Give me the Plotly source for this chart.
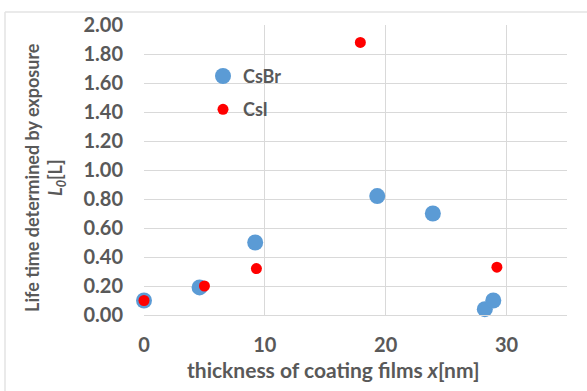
import plotly.graph_objects as go

# Data
csbr_x = [0.0, 4.6, 9.2, 19.3, 23.9, 28.2, 28.9]
csbr_y = [0.10, 0.19, 0.50, 0.82, 0.70, 0.04, 0.10]
csi_x = [0.0, 5.0, 9.3, 17.9, 29.2]
csi_y = [0.10, 0.20, 0.32, 1.88, 0.33]
x_ticks = [0, 10, 20, 30]
y_ticks = [0.0, 0.2, 0.4, 0.6, 0.8, 1.0, 1.2, 1.4, 1.6, 1.8, 2.0]

FONT = "Lato"
GRAY = "#595959"
W, H = 587, 391
L, R, T, B = 144, 20, 23, 76
PW, PH = W - L - R, H - T - B

fig = go.Figure()
fig.add_trace(go.Scatter(x=csbr_x, y=csbr_y, mode="markers", name="CsBr", legendgroup="a",
                         marker=dict(color="#5B9BD5", size=16), cliponaxis=False))
fig.add_trace(go.Scatter(x=csi_x, y=csi_y, mode="markers", name="CsI", legendgroup="b",
                         marker=dict(color="#FF0000", size=11), cliponaxis=False))

fig.update_layout(
    width=W, height=H,
    margin=dict(l=L, r=R, t=T, b=B),
    paper_bgcolor="white", plot_bgcolor="white",
    font=dict(family=FONT, color=GRAY, size=17),
    showlegend=True,
    legend=dict(x=(203 - L) / PW, y=1 - (56 - T) / PH, xanchor="left", yanchor="top",
                bgcolor="rgba(0,0,0,0)",
                font=dict(size=18, color=GRAY, family=FONT, weight="bold"),
                itemsizing="trace", tracegroupgap=7),
    xaxis=dict(range=[0, 35], tickvals=x_ticks, ticktext=[str(v) for v in x_ticks],
               showgrid=True, gridcolor="#D9D9D9", gridwidth=1,
               zeroline=False, showline=True, linecolor="#D9D9D9", linewidth=1,
               ticks="outside", ticklen=12, tickcolor="rgba(0,0,0,0)",
               tickfont=dict(size=20, family=FONT, color=GRAY, weight="bold")),
    yaxis=dict(range=[0, 2.0], tickvals=y_ticks, ticktext=[f"{v:.2f}" for v in y_ticks],
               showgrid=True, gridcolor="#D9D9D9", gridwidth=1,
               zeroline=False, showline=False,
               ticks="outside", ticklen=16, tickcolor="rgba(0,0,0,0)",
               tickfont=dict(size=20, family=FONT, color=GRAY, weight="bold")),
)

# axis titles as annotations
fig.add_annotation(text="thickness of coating films <i>x</i>[nm]", xref="paper", yref="paper",
                   x=(185 - L) / PW, y=-(370 - (H - B)) / PH,
                   xanchor="left", yanchor="middle", showarrow=False,
                   font=dict(size=21, family=FONT, color=GRAY, weight="bold"))
fig.add_annotation(text="Life time determined by exposure<br><i>L<sub>0</sub></i>[L]",
                   xref="paper", yref="paper",
                   x=-(L - 45) / PW, y=((H - B) - 177) / PH,
                   xanchor="center", yanchor="middle", textangle=-90, showarrow=False,
                   font=dict(size=18, family=FONT, color=GRAY, weight="bold"))

# chart frame (left and top edges visible)
fx = -(L - 5) / PW
fy = (H - B - 10) / PH
fig.add_shape(type="line", xref="paper", yref="paper",
              x0=fx, x1=fx, y0=fy, y1=-(B + 2) / PH,
              line=dict(color="#E3E3E3", width=1.5))
fig.add_shape(type="line", xref="paper", yref="paper",
              x0=fx, x1=(W - L + 2) / PW, y0=fy, y1=fy,
              line=dict(color="#E3E3E3", width=1.5))

fig.write_html("out.html")
